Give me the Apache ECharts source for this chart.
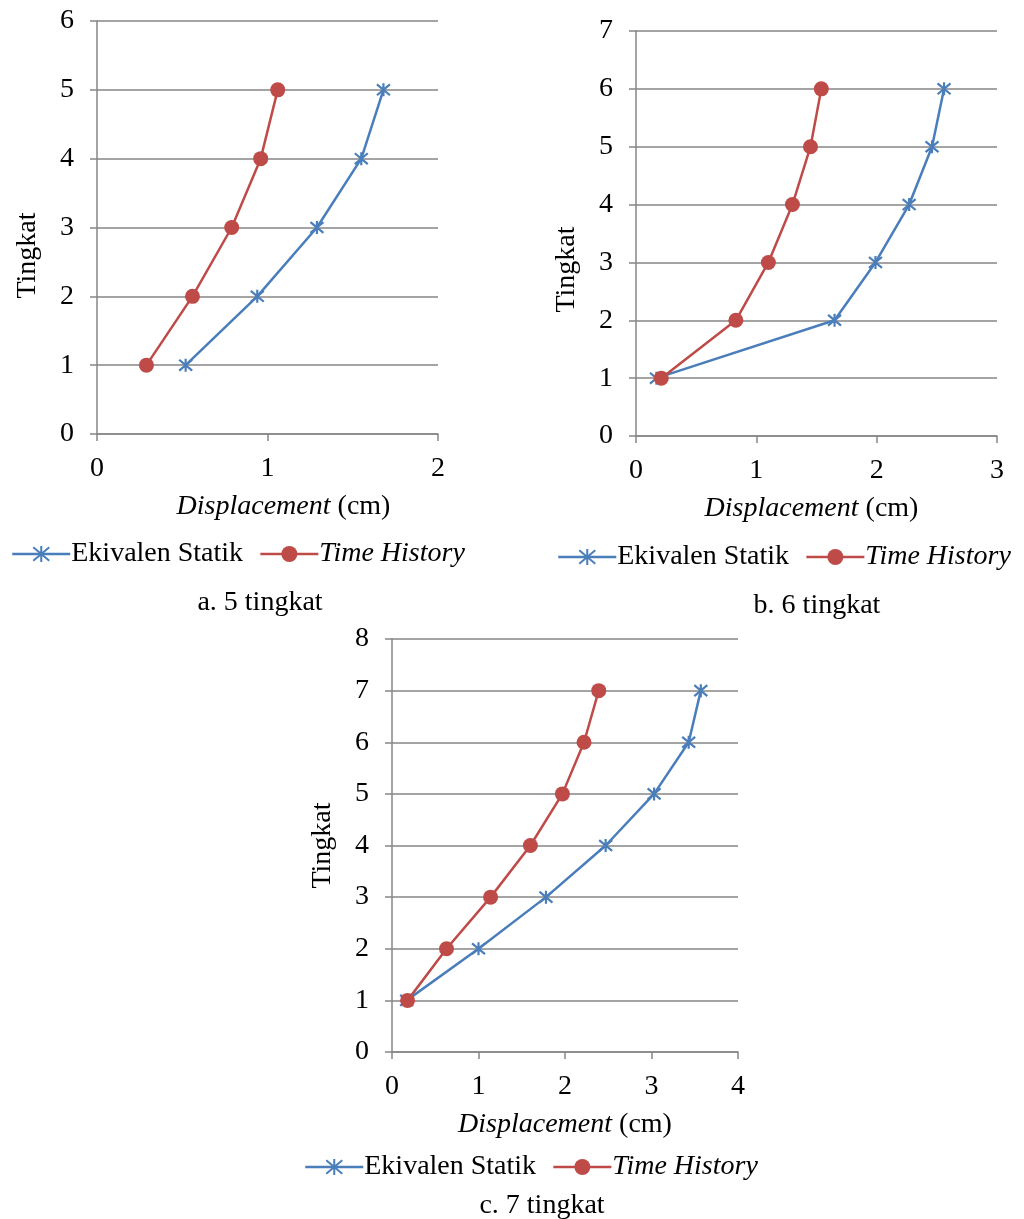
<!DOCTYPE html>
<html>
<head>
<meta charset="utf-8">
<script src="https://cdn.jsdelivr.net/npm/echarts@6/dist/echarts.min.js"></script>
<style>
  html, body { margin: 0; padding: 0; background: #fff; }
  #chart { width: 1024px; height: 1219px; }
</style>
</head>
<body>
<div id="chart"></div>
<script>
// lantai (tingkat) untuk tiap model
const levels5 = [1, 2, 3, 4, 5];
const levels6 = [1, 2, 3, 4, 5, 6];
const levels7 = [1, 2, 3, 4, 5, 6, 7];

// displacement (cm)
const statik5 = [0.52, 0.94, 1.29, 1.55, 1.68];
const history5 = [0.29, 0.56, 0.79, 0.96, 1.06];
const statik6 = [0.17, 1.65, 1.99, 2.27, 2.46, 2.56];
const history6 = [0.21, 0.83, 1.10, 1.30, 1.45, 1.54];
const statik7 = [0.17, 1.00, 1.78, 2.47, 3.03, 3.43, 3.57];
const history7 = [0.18, 0.63, 1.14, 1.60, 1.97, 2.22, 2.39];

// batas sumbu
const xMax = [2, 3, 4];
const yMax = [6, 7, 8];
const captions = ['a. 5 tingkat', 'b. 6 tingkat', 'c. 7 tingkat'];

const BLUE = '#4a7ebb';
const RED = '#be4b48';
const GRID_GRAY = '#868686';
const FONT = '"Liberation Serif", "Times New Roman", serif';
const FS = 28;
const STAR = 'path://M0,0L10,10M10,0L0,10M5,-1L5,11';

// posisi masing-masing panel
const panels = [
  { left: 97, top: 21, width: 341, height: 413, yShift: 56, xShift: 32, legendLeft: 6, legendTop: 535, capX: 255, capTop: 584 },
  { left: 636, top: 31, width: 361, height: 405, yShift: 72, xShift: -10, legendLeft: 552, legendTop: 538, capX: 812, capTop: 587 },
  { left: 392, top: 639, width: 346, height: 413, yShift: 0, xShift: 0, legendLeft: 299, legendTop: 1148, capX: 537, capTop: 1187 }
];

const pairs = (xs, ys) => xs.map((v, i) => [v, ys[i]]);

const seriesData = [
  [pairs(statik5, levels5), pairs(history5, levels5)],
  [pairs(statik6, levels6), pairs(history6, levels6)],
  [pairs(statik7, levels7), pairs(history7, levels7)]
];

const grid = [], xAxis = [], yAxis = [], series = [], legend = [], title = [];

panels.forEach((p, i) => {
  grid.push({ left: p.left, top: p.top, width: p.width, height: p.height });
  xAxis.push({
    type: 'value', gridIndex: i, min: 0, max: xMax[i], interval: 1,
    name: '{i|Displacement} (cm)',
    nameLocation: 'middle', nameGap: 59,
    nameTextStyle: {
      color: '#000', fontFamily: FONT, fontSize: FS,
      padding: p.xShift > 0 ? [0, 0, 0, p.xShift] : [0, -p.xShift, 0, 0],
      rich: { i: { fontStyle: 'italic', fontFamily: FONT, fontSize: FS, color: '#000' } }
    },
    axisLine: { show: true, onZero: false, lineStyle: { color: GRID_GRAY, width: 1.5 } },
    axisTick: { show: true, length: 7, lineStyle: { color: GRID_GRAY, width: 1.5 } },
    axisLabel: { color: '#000', fontFamily: FONT, fontSize: FS, margin: 21 },
    splitLine: { show: false }
  });
  yAxis.push({
    type: 'value', gridIndex: i, min: 0, max: yMax[i], interval: 1,
    name: 'Tingkat',
    nameLocation: 'middle', nameGap: 55,
    nameTextStyle: {
      color: '#000', fontFamily: FONT, fontSize: FS,
      padding: [0, p.yShift, 0, 0]
    },
    axisLine: { show: true, onZero: false, lineStyle: { color: GRID_GRAY, width: 1.5 } },
    axisTick: { show: true, length: 7, lineStyle: { color: GRID_GRAY, width: 1.5 } },
    axisLabel: { color: '#000', fontFamily: FONT, fontSize: FS, margin: 23 },
    splitLine: { show: true, lineStyle: { color: GRID_GRAY, width: 1.5 } }
  });
  series.push({
    name: 'Ekivalen Statik', type: 'line',
    xAxisIndex: i, yAxisIndex: i,
    data: seriesData[i][0],
    symbol: STAR, symbolSize: 13,
    itemStyle: { color: BLUE, borderColor: BLUE, borderWidth: 2.2 },
    lineStyle: { color: BLUE, width: 2.5 },
    animation: false
  });
  series.push({
    name: 'Time History', type: 'line',
    xAxisIndex: i, yAxisIndex: i,
    data: seriesData[i][1],
    symbol: 'circle', symbolSize: 15,
    itemStyle: { color: RED },
    lineStyle: { color: RED, width: 2.5 },
    animation: false
  });
  legend.push({
    left: p.legendLeft, top: p.legendTop,
    itemWidth: 58, itemHeight: 20, itemGap: 16,
    data: ['Ekivalen Statik', 'Time History'],
    formatter: name => name === 'Time History' ? '{i|' + name + '}' : name,
    lineStyle: { width: 2.5 },
    textStyle: {
      color: '#000', fontFamily: FONT, fontSize: FS, padding: [0, 0, 0, -4],
      rich: { i: { fontStyle: 'italic', fontFamily: FONT, fontSize: FS, color: '#000' } }
    }
  });
  title.push({
    text: captions[i], left: p.capX, top: p.capTop, textAlign: 'center',
    textStyle: { color: '#000', fontFamily: FONT, fontSize: FS, fontWeight: 'normal' }
  });
});

const myChart = echarts.init(document.getElementById('chart'));
myChart.setOption({
  backgroundColor: '#fff',
  animation: false,
  title, legend, grid, xAxis, yAxis, series
});
</script>
</body>
</html>
